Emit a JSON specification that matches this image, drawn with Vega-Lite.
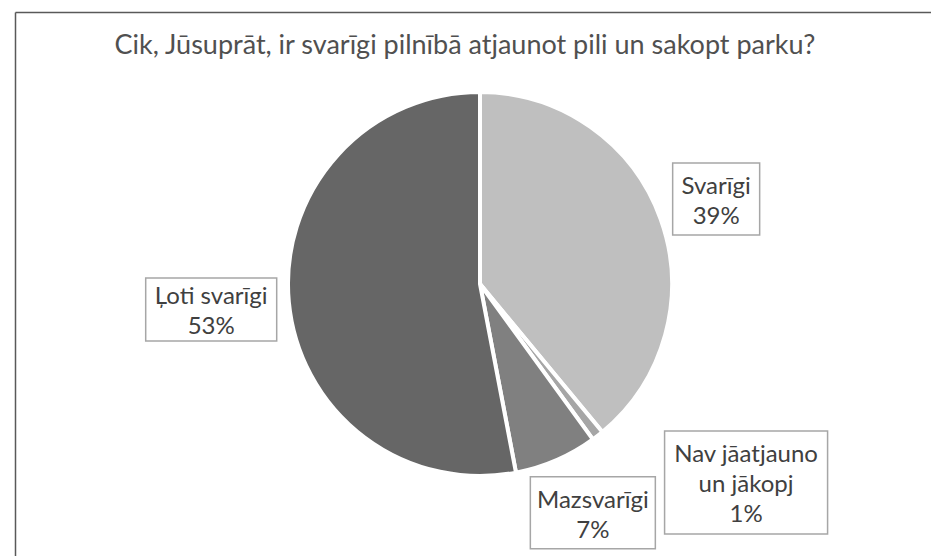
{
  "$schema": "https://vega.github.io/schema/vega-lite/v6.json",
  "width": 916,
  "height": 544,
  "autosize": {"type": "none"},
  "padding": {"left": 15, "top": 12, "right": 0, "bottom": 0},
  "background": "white",
  "config": {"view": {"stroke": null}},
  "title": {
    "text": "Cik, Jūsuprāt, ir svarīgi pilnībā atjaunot pili un sakopt parku?",
    "font": "Lato",
    "fontSize": 27,
    "fontWeight": "normal",
    "color": "#505050",
    "anchor": "middle",
    "offset": -48,
    "dx": -8
  },
  "data": {
    "values": [
      {"idx": 1, "cat": "Svarīgi", "value": 39, "label": "Svarīgi\n39%"},
      {"idx": 2, "cat": "Nav jāatjauno un jākopj", "value": 1, "label": "Nav jāatjauno\nun jākopj\n1%"},
      {"idx": 3, "cat": "Mazsvarīgi", "value": 7, "label": "Mazsvarīgi\n7%"},
      {"idx": 4, "cat": "Ļoti svarīgi", "value": 53, "label": "Ļoti svarīgi\n53%"}
    ]
  },
  "layer": [
    {
      "mark": {"type": "arc", "outerRadius": 192, "stroke": "white", "strokeWidth": 4, "x": {"expr": "width / 2 + 7"}},
      "encoding": {
        "theta": {"field": "value", "type": "quantitative", "stack": true},
        "order": {"field": "idx", "type": "quantitative"},
        "color": {
          "field": "cat",
          "type": "nominal",
          "scale": {
            "domain": ["Svarīgi", "Nav jāatjauno un jākopj", "Mazsvarīgi", "Ļoti svarīgi"],
            "range": ["#bfbfbf", "#a6a6a6", "#808080", "#666666"]
          },
          "legend": null
        }
      }
    },
    {
      "transform": [
        {"window": [{"op": "sum", "field": "value", "as": "cum"}], "sort": [{"field": "idx", "order": "ascending"}], "frame": [null, 0]},
        {"joinaggregate": [{"op": "sum", "field": "value", "as": "total"}]},
        {"calculate": "2 * PI * (datum.cum - datum.value / 2) / datum.total + ({'Nav jāatjauno un jākopj': -0.27, 'Mazsvarīgi': -0.05}[datum.cat] || 0)", "as": "mid"},
        {"calculate": "{'Svarīgi': 251, 'Nav jāatjauno un jākopj': 332, 'Mazsvarīgi': 255, 'Ļoti svarīgi': 270}[datum.cat]", "as": "lr"},
        {"calculate": "datum.lr * sin(datum.mid)", "as": "lx"},
        {"calculate": "datum.lr * cos(datum.mid)", "as": "ly"},
        {"calculate": "datum.ly + (length(split(datum.label, '\\n')) - 1) * 16 - 4", "as": "ty"}
      ],
      "layer": [
        {
          "mark": {"type": "point", "filled": true, "fill": "white", "stroke": "#a6a6a6", "strokeWidth": 1.5, "opacity": 1, "size": 40000},
          "encoding": {
            "x": {"field": "lx", "type": "quantitative", "scale": {"domain": [-465, 451], "nice": false, "zero": false},
              "axis": {"orient": "top", "labels": false, "ticks": false, "grid": false, "title": null, "domain": true, "domainColor": "#595959", "domainWidth": 1.5}},
            "y": {"field": "ly", "type": "quantitative", "scale": {"domain": [-272, 272], "nice": false, "zero": false},
              "axis": {"orient": "left", "labels": false, "ticks": false, "grid": false, "title": null, "domain": true, "domainColor": "#595959", "domainWidth": 1.5}},
            "shape": {
              "field": "cat",
              "type": "nominal",
              "scale": {
                "domain": ["Svarīgi", "Nav jāatjauno un jākopj", "Mazsvarīgi", "Ļoti svarīgi"],
                "range": [
                  "M-0.435,-0.36L0.435,-0.36L0.435,0.36L-0.435,0.36Z",
                  "M-0.815,-0.515L0.815,-0.515L0.815,0.515L-0.815,0.515Z",
                  "M-0.625,-0.36L0.625,-0.36L0.625,0.36L-0.625,0.36Z",
                  "M-0.655,-0.315L0.655,-0.315L0.655,0.315L-0.655,0.315Z"
                ]
              },
              "legend": null
            }
          }
        },
        {
          "mark": {"type": "text", "font": "Lato", "fontSize": 24, "color": "#404040", "lineBreak": "\n", "lineHeight": 30, "align": "center", "baseline": "middle"},
          "encoding": {
            "x": {"field": "lx", "type": "quantitative",
              "axis": {"orient": "top", "labels": false, "ticks": false, "grid": false, "title": null, "domain": true, "domainColor": "#595959", "domainWidth": 1.5}},
            "y": {"field": "ty", "type": "quantitative",
              "axis": {"orient": "left", "labels": false, "ticks": false, "grid": false, "title": null, "domain": true, "domainColor": "#595959", "domainWidth": 1.5}},
            "text": {"field": "label"}
          }
        }
      ]
    }
  ]
}
